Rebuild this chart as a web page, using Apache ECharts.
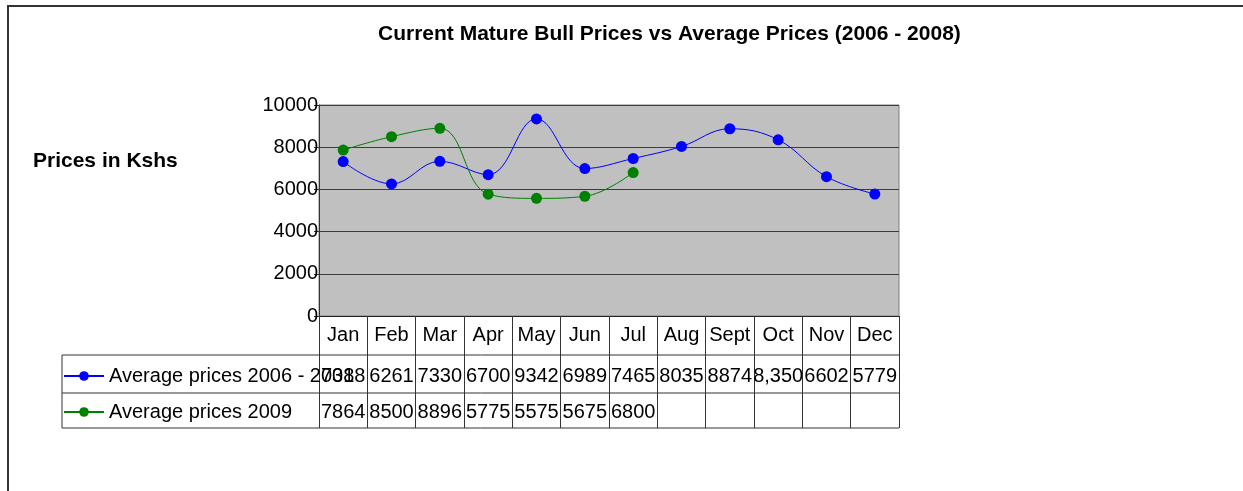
<!DOCTYPE html>
<html>
<head>
<meta charset="utf-8">
<script src="https://cdn.jsdelivr.net/npm/echarts@6/dist/echarts.min.js"></script>
<style>
  html, body { margin: 0; padding: 0; background: #fff; }
  #main { width: 1243px; height: 491px; }
</style>
</head>
<body>
<div id="main"></div>
<script>
// data
const months = ['Jan', 'Feb', 'Mar', 'Apr', 'May', 'Jun', 'Jul', 'Aug', 'Sept', 'Oct', 'Nov', 'Dec'];
const avg0608 = [7318, 6261, 7330, 6700, 9342, 6989, 7465, 8035, 8874, 8350, 6602, 5779];
const avg2009 = [7864, 8500, 8896, 5775, 5575, 5675, 6800, null, null, null, null, null];
const avg0608Text = ['7318', '6261', '7330', '6700', '9342', '6989', '7465', '8035', '8874', '8,350', '6602', '5779'];
const avg2009Text = ['7864', '8500', '8896', '5775', '5575', '5675', '6800', '', '', '', '', ''];
const yTicks = [0, 2000, 4000, 6000, 8000, 10000];
const seriesNames = ['Average prices 2006 - 2008', 'Average prices 2009'];

const FONT = "'Liberation Sans', Arial, sans-serif";
// plot area
const G = { left: 319, top: 105, width: 580, height: 211 };
const tableBottom = 428;
const lineCol = '#333';

let chart = echarts.init(document.getElementById('main'));

function rowAxis(data, offset) {
  return {
    type: 'category',
    data: data,
    position: 'bottom',
    offset: offset,
    axisLine: { show: false },
    axisTick: { show: false },
    axisLabel: { interval: 0, margin: 9, color: '#000', fontSize: 20, fontFamily: FONT }
  };
}

chart.setOption({
  animation: false,
  title: {
    text: 'Current Mature Bull Prices vs Average Prices (2006 - 2008)',
    left: 378,
    top: 24,
    padding: 0,
    textStyle: { fontSize: 21, fontWeight: 'bold', color: '#000', fontFamily: FONT }
  },
  legend: {
    orient: 'vertical',
    left: 63,
    top: 365,
    padding: 0,
    itemWidth: 40,
    itemHeight: 12,
    itemGap: 14,
    data: seriesNames,
    textStyle: { fontSize: 20, color: '#000', fontFamily: FONT, lineHeight: 22 }
  },
  grid: {
    left: G.left,
    top: G.top,
    width: G.width,
    height: G.height,
    show: true,
    backgroundColor: '#c0c0c0',
    borderColor: '#808080',
    borderWidth: 1
  },
  xAxis: [
    {
      type: 'category',
      data: months,
      boundaryGap: true,
      axisLine: { show: true, lineStyle: { color: '#222', width: 1 } },
      axisTick: {
        show: true,
        interval: 0,
        alignWithLabel: false,
        length: tableBottom - (G.top + G.height),
        lineStyle: { color: lineCol, width: 1 }
      },
      axisLabel: { interval: 0, margin: 9, color: '#000', fontSize: 20, fontFamily: FONT }
    },
    rowAxis(avg0608Text, 41),
    rowAxis(avg2009Text, 77)
  ],
  yAxis: {
    type: 'value',
    min: yTicks[0],
    max: yTicks[yTicks.length - 1],
    interval: 2000,
    axisLine: { show: true, lineStyle: { color: '#333' } },
    axisTick: { show: true, length: 5, lineStyle: { color: '#333' } },
    axisLabel: { margin: 1, color: '#000', fontSize: 20, fontFamily: FONT, formatter: v => String(v) },
    splitLine: { lineStyle: { color: '#3c3c3c', width: 1 } }
  },
  graphic: [
    // outer frame
    { type: 'rect', shape: { x: 8, y: 6, width: 1300, height: 600 },
      style: { fill: null, stroke: '#333', lineWidth: 2 }, silent: true },
    { type: 'text', left: 33, top: 151,
      style: { text: 'Prices in Kshs', fontSize: 21, fontWeight: 'bold', fill: '#000', fontFamily: FONT } },
    // data table rules
    { type: 'line', shape: { x1: 62, y1: 355, x2: G.left + G.width, y2: 355 }, style: { stroke: lineCol, lineWidth: 1 } },
    { type: 'line', shape: { x1: 62, y1: 393, x2: G.left + G.width, y2: 393 }, style: { stroke: lineCol, lineWidth: 1 } },
    { type: 'line', shape: { x1: 62, y1: tableBottom, x2: G.left + G.width, y2: tableBottom }, style: { stroke: lineCol, lineWidth: 1 } },
    { type: 'line', shape: { x1: 62, y1: 355, x2: 62, y2: tableBottom }, style: { stroke: lineCol, lineWidth: 1 } }
  ],
  series: [
    {
      name: seriesNames[0],
      type: 'line',
      data: avg0608,
      smooth: 0.4,
      symbol: 'circle',
      symbolSize: 11,
      itemStyle: { color: '#0000ff' },
      lineStyle: { color: '#0000ff', width: 1 }
    },
    {
      name: seriesNames[1],
      type: 'line',
      data: avg2009,
      smooth: 0.4,
      symbol: 'circle',
      symbolSize: 11,
      itemStyle: { color: '#008000' },
      lineStyle: { color: '#008000', width: 1 }
    }
  ]
});
</script>
</body>
</html>
